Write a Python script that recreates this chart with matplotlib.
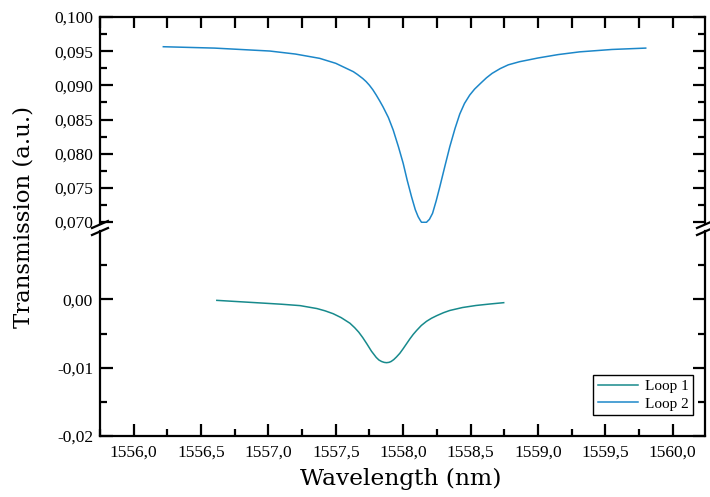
import matplotlib
matplotlib.use("Agg")
import matplotlib.pyplot as plt
from matplotlib.ticker import MultipleLocator, FixedLocator, FuncFormatter
from matplotlib.lines import Line2D

# ---- data ----
loop2_x = [1556.22, 1556.60, 1557.01, 1557.20, 1557.38, 1557.50, 1557.55, 1557.63,
           1557.66, 1557.70, 1557.725, 1557.75, 1557.775, 1557.80, 1557.825, 1557.85,
           1557.89, 1557.926, 1557.965, 1558.00, 1558.03, 1558.062, 1558.09, 1558.111,
           1558.125, 1558.136, 1558.173, 1558.195, 1558.218, 1558.245, 1558.272, 1558.31,
           1558.346, 1558.385, 1558.42, 1558.455, 1558.494, 1558.53, 1558.58, 1558.618,
           1558.66, 1558.72, 1558.78, 1558.864, 1558.93, 1559.00, 1559.15, 1559.31,
           1559.55, 1559.80]
loop2_y = [0.09565, 0.09545, 0.09502, 0.09458, 0.09395, 0.09322, 0.09275, 0.09200,
           0.09160, 0.09100, 0.09055, 0.09000, 0.08935, 0.08858, 0.08775, 0.08687,
           0.08530, 0.08346, 0.08100, 0.07859, 0.07610, 0.07370, 0.07180, 0.07078,
           0.07030, 0.06996, 0.06996, 0.07040, 0.07127, 0.07310, 0.07516, 0.07820,
           0.08102, 0.08370, 0.08580, 0.08735, 0.08858, 0.08945, 0.09040, 0.09110,
           0.09175, 0.09245, 0.09300, 0.09346, 0.09372, 0.09400, 0.09450, 0.09490,
           0.09525, 0.09545]

loop1_x = [1556.617, 1557.00, 1557.10, 1557.235, 1557.36, 1557.42, 1557.48, 1557.54,
           1557.605, 1557.64, 1557.67, 1557.70, 1557.73, 1557.765, 1557.80, 1557.82,
           1557.84, 1557.86, 1557.877, 1557.895, 1557.91, 1557.93, 1557.95, 1557.975,
           1558.00, 1558.025, 1558.05, 1558.075, 1558.10, 1558.135, 1558.173, 1558.21,
           1558.25, 1558.30, 1558.346, 1558.44, 1558.54, 1558.64, 1558.746]
loop1_y = [-0.00015, -0.00060, -0.00072, -0.00092, -0.00135, -0.00168, -0.00210, -0.00268,
           -0.00350, -0.00415, -0.00480, -0.00560, -0.00650, -0.00760, -0.00850, -0.00888,
           -0.00910, -0.00923, -0.00927, -0.00922, -0.00910, -0.00882, -0.00844, -0.00790,
           -0.00722, -0.00650, -0.00578, -0.00512, -0.00455, -0.00382, -0.00322, -0.00277,
           -0.00238, -0.00195, -0.00163, -0.00120, -0.00090, -0.00069, -0.00049]

series_labels = ["Loop 1", "Loop 2"]
loop1_color = "#178a8c"
loop2_color = "#1c87c9"

W, H = 710, 497
fig = plt.figure(figsize=(W / 100, H / 100), dpi=100)

L = 100 / W
R = 705 / W
top_y0, top_y1 = 17, 222.7
bot_y0, bot_y1 = 231, 436

ax_top = fig.add_axes([L, (H - top_y1) / H, R - L, (top_y1 - top_y0) / H])
ax_bot = fig.add_axes([L, (H - bot_y1) / H, R - L, (bot_y1 - bot_y0) / H], sharex=ax_top)

tick_family = "Liberation Serif"
tick_size = 12.5
label_font = "DejaVu Serif"

ax_top.plot(loop2_x, loop2_y, color=loop2_color, lw=1.1, solid_joinstyle="round")
ax_bot.plot(loop1_x, loop1_y, color=loop1_color, lw=1.1, solid_joinstyle="round")

ax_top.set_xlim(1555.75, 1560.24)
ax_top.set_ylim(0.0699, 0.100)
ax_bot.set_ylim(-0.02, 0.010)

spine_w = 1.6
for ax in (ax_top, ax_bot):
    for s in ax.spines.values():
        s.set_linewidth(spine_w)
ax_top.spines["bottom"].set_visible(False)
ax_bot.spines["top"].set_visible(False)

# y ticks
ax_top.yaxis.set_major_locator(MultipleLocator(0.005))
ax_top.yaxis.set_minor_locator(MultipleLocator(0.0025))
ax_top.yaxis.set_major_formatter(FuncFormatter(lambda v, p: f"{v:.3f}".replace(".", ",")))
ax_bot.yaxis.set_major_locator(FixedLocator([-0.02, -0.01, 0.0]))
ax_bot.yaxis.set_minor_locator(FixedLocator([-0.015, -0.005, 0.005]))
ax_bot.yaxis.set_major_formatter(FuncFormatter(lambda v, p: f"{v:.2f}".replace(".", ",").replace("-0,00", "0,00")))

for ax in (ax_top, ax_bot):
    ax.tick_params(axis="y", which="both", direction="in", left=True, right=True,
                   width=spine_w, pad=5)
    ax.tick_params(axis="y", which="major", length=9)
    ax.tick_params(axis="y", which="minor", length=5)

# x ticks
ax_bot.xaxis.set_major_locator(MultipleLocator(0.5))
ax_bot.xaxis.set_minor_locator(MultipleLocator(0.25))
ax_bot.xaxis.set_major_formatter(FuncFormatter(lambda v, p: f"{v:.1f}".replace(".", ",")))
ax_bot.tick_params(axis="x", which="both", direction="in", bottom=True, top=False,
                   width=spine_w, pad=6)
ax_bot.tick_params(axis="x", which="major", length=9)
ax_bot.tick_params(axis="x", which="minor", length=5)
ax_top.tick_params(axis="x", which="both", direction="in", bottom=False, top=True,
                   labelbottom=False, labeltop=False, width=spine_w, length=8)

for ax in (ax_top, ax_bot):
    for lab in ax.get_xticklabels() + ax.get_yticklabels():
        lab.set_fontfamily(tick_family)
        lab.set_fontsize(tick_size)

# break marks
def fx(px):
    return px / W
def fy(py):
    return 1 - py / H

for xc in (100, 705):
    for yc in (224.5, 231.5):
        fig.add_artist(Line2D([fx(xc - 8), fx(xc + 8)], [fy(yc + 3.5), fy(yc - 3.5)],
                              color="black", lw=1.6))

# labels
fig.text(401 / W, fy(479), "Wavelength (nm)", ha="center", va="center",
         fontfamily=label_font, fontsize=16.8)
fig.text(24 / W, fy(217), "Transmission (a.u.)", ha="center", va="center",
         rotation=90, fontfamily=label_font, fontsize=16.5)

# legend
handles = [Line2D([], [], color=loop1_color, lw=1.1),
           Line2D([], [], color=loop2_color, lw=1.1)]
leg = ax_bot.legend(handles, series_labels, loc="lower right",
                    bbox_to_anchor=(0.9936, 0.0634), fancybox=False, framealpha=1,
                    edgecolor="black", handlelength=2.6, borderpad=0.3,
                    labelspacing=0.25, handletextpad=0.5,
                    prop={"family": "Liberation Serif", "size": 11})
leg.get_frame().set_linewidth(1.0)

fig.savefig("out.png", dpi=100)
